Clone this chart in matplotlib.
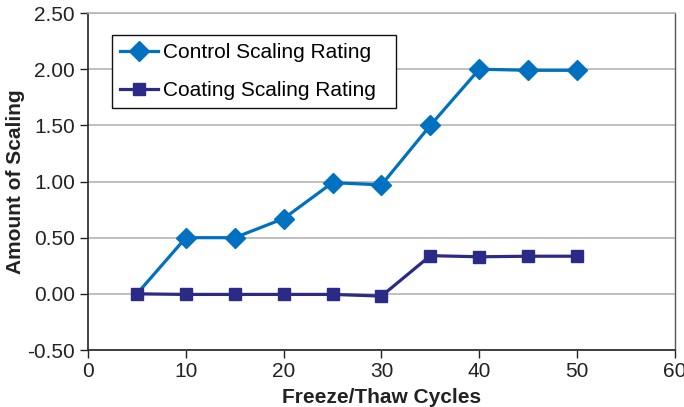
import matplotlib
matplotlib.use("Agg")
import matplotlib.pyplot as plt

cycles = [5, 10, 15, 20, 25, 30, 35, 40, 45, 50]
control = [0.00, 0.50, 0.50, 0.67, 0.99, 0.97, 1.50, 2.00, 1.99, 1.99]
coating = [0.00, -0.005, -0.005, -0.005, -0.005, -0.02, 0.34, 0.33, 0.335, 0.335]
yticks = [-0.50, 0.00, 0.50, 1.00, 1.50, 2.00, 2.50]
xticks = [0, 10, 20, 30, 40, 50, 60]

plt.rcParams['font.family'] = ['Liberation Sans', 'DejaVu Sans']

fig = plt.figure(figsize=(6.84, 4.07), dpi=100)
ax = fig.add_axes([0.1287, 0.14, 0.858, 0.828])

ax.plot(cycles, control, color='#0070C0', lw=2.3, marker='D', markersize=10,
        markevery=list(range(1, len(cycles))),
        label='Control Scaling Rating', zorder=3)
ax.plot(cycles, coating, color='#2B2A87', lw=2.3, marker='s', markersize=8.5,
        label='Coating Scaling Rating', zorder=4)

ax.set_xlim(0, 60)
ax.set_ylim(-0.5, 2.5)
ax.set_xticks(xticks)
ax.set_yticks(yticks)
ax.set_yticklabels([f"{v:.2f}" for v in yticks])
ax.yaxis.grid(True, color='#B4B4B4', lw=1.2)
ax.set_axisbelow(True)

for s in ['left', 'bottom']:
    ax.spines[s].set_color('#333333')
    ax.spines[s].set_linewidth(1.3)
ax.spines['right'].set_color('#555555')
ax.spines['right'].set_linewidth(1.0)
ax.spines['top'].set_color('#B4B4B4')
ax.spines['top'].set_linewidth(1.2)

ax.tick_params(axis='both', labelsize=15, colors='#222222', length=5.5, width=1,
               direction='out')
ax.tick_params(axis='y', pad=4)
ax.tick_params(axis='x', pad=3)

ax.set_xlabel('Freeze/Thaw Cycles', fontsize=15, fontweight='bold', color='#222222', labelpad=5)
ax.set_ylabel('Amount of Scaling', fontsize=15, fontweight='bold', color='#222222')
ax.yaxis.set_label_coords(-0.107, 0.5)

leg = ax.legend(loc='upper left', bbox_to_anchor=(0.0409, 0.5, 0.4838, 0.435),
                mode='expand', fontsize=15,
                frameon=True, fancybox=False, edgecolor='#111111',
                handlelength=1.8, borderpad=0.4, labelspacing=0.9, handletextpad=0.25,
                borderaxespad=0)
leg.get_frame().set_linewidth(1.0)
leg.get_frame().set_facecolor('white')
leg.get_frame().set_alpha(1)

fig.savefig('out.png', dpi=100)
